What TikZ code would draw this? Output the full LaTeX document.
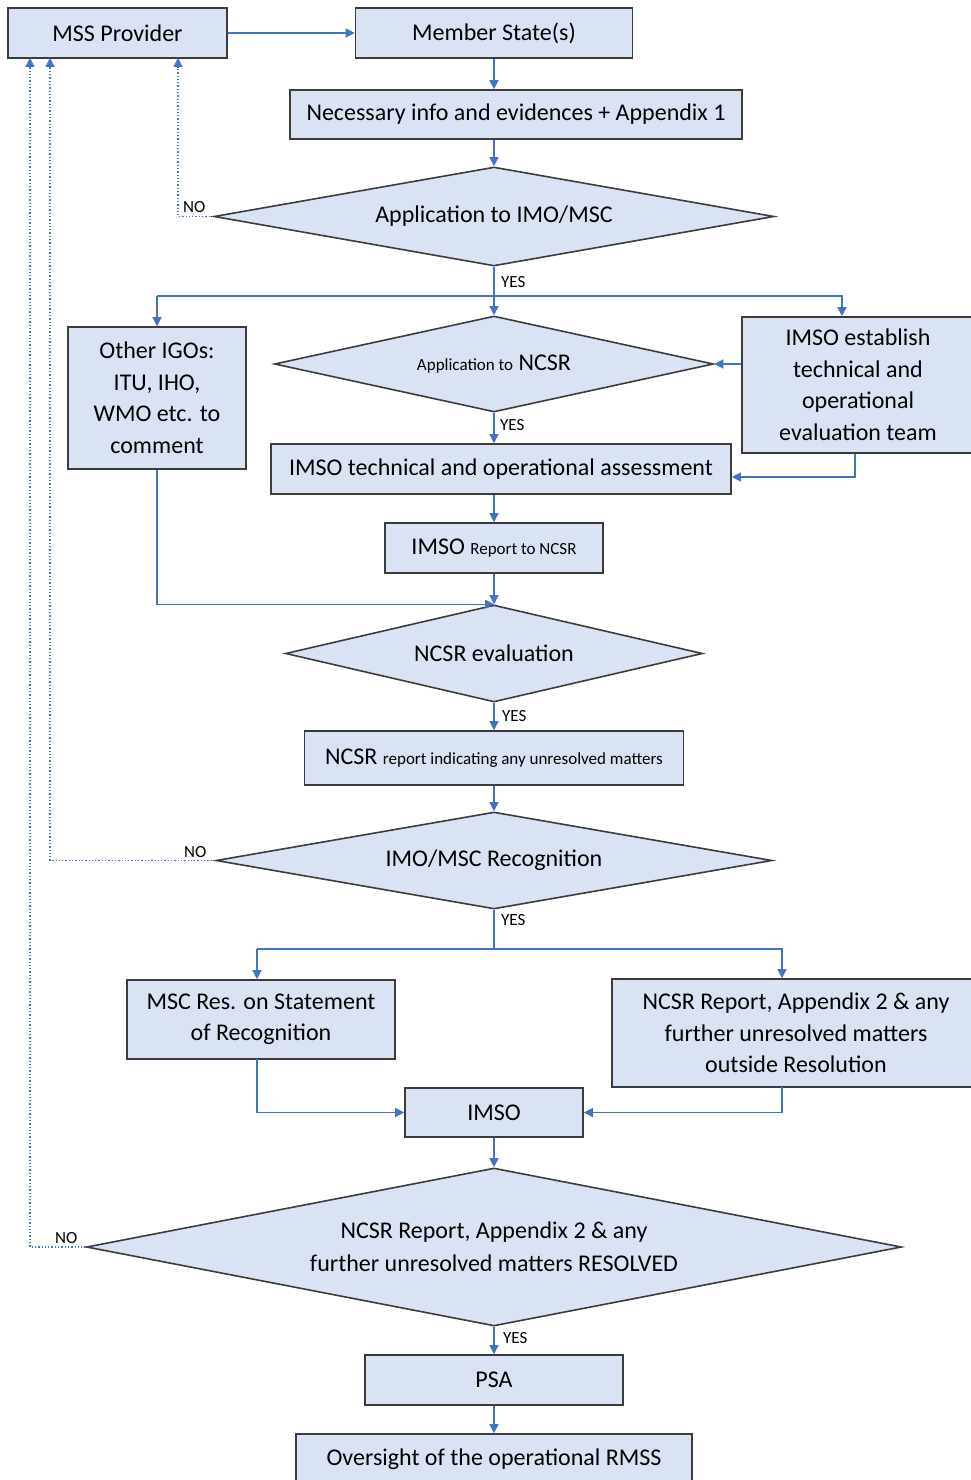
\documentclass[tikz,border=0pt]{standalone}
\usepackage{fontspec}
\setmainfont{Carlito}
\usetikzlibrary{shapes.geometric,arrows.meta}
\definecolor{boxfill}{RGB}{218,227,243}
\definecolor{boxline}{RGB}{60,60,60}
\definecolor{flow}{RGB}{68,114,196}
\newcommand{\sm}{\fontsize{17}{20}\selectfont}
\tikzset{
	stepbox/.style={draw=boxline, fill=boxfill, line width=1.6pt, inner sep=0pt, align=center, font=\fontsize{24}{31.5}\selectfont},
	choice/.style={diamond, draw=boxline, fill=boxfill, line width=1.6pt, inner sep=0pt, align=center, font=\fontsize{24}{33}\selectfont},
	flowline/.style={draw=flow, line width=1.3pt, -{Triangle[width=9pt,length=9pt]}},
	noline/.style={flowline, dotted},
	answer/.style={font=\fontsize{17}{17}\selectfont, inner sep=0pt, anchor=west}
}
\begin{document}
\begin{tikzpicture}[x=1pt,y=1pt,yscale=-1]
	\useasboundingbox (0,0) rectangle (971,1480);
	
	% Boxes
	\node[stepbox, minimum width=219, minimum height=50] (mss) at (117.5,33) {MSS Provider};
	\node[stepbox, minimum width=277, minimum height=50] (ms) at (494,33) {Member State(s)};
	\node[stepbox, minimum width=452, minimum height=49] (info) at (516,114.5) {Necessary info and evidences + Appendix 1};
	\node[stepbox, minimum width=178, minimum height=142] (igo) at (157,398) {Other IGOs:\\ITU, IHO,\\WMO etc. to\\comment};
	\node[stepbox, minimum width=232, minimum height=136] (team) at (858,385) {IMSO establish\\technical and\\operational\\evaluation team};
	\node[stepbox, minimum width=460, minimum height=50] (tech) at (501,469) {IMSO technical and operational assessment};
	\node[stepbox, minimum width=218, minimum height=50] (rep) at (494,548) {IMSO {\sm Report to NCSR}};
	\node[stepbox, minimum width=379, minimum height=54] (ncsrrep) at (494,758) {NCSR {\sm report indicating any unresolved matters}};
	\node[stepbox, minimum width=268, minimum height=79] (msc) at (261,1019.5) {MSC Res. on Statement\\of Recognition};
	\node[stepbox, minimum width=368, minimum height=108] (ncsr2) at (796,1033) {NCSR Report, Appendix 2 \& any\\further unresolved matters\\outside Resolution};
	\node[stepbox, minimum width=178, minimum height=49] (imso) at (494,1112.5) {IMSO};
	\node[stepbox, minimum width=258, minimum height=50] (psa) at (494,1380) {PSA};
	\node[stepbox, minimum width=396, minimum height=50] (over) at (494,1459) {Oversight of the operational RMSS};
	
	% Diamonds
	\node[choice, aspect=5.66, minimum width=560, minimum height=99] (d1) at (494,216.5) {Application to IMO/MSC};
	\node[choice, aspect=4.57, minimum width=439, minimum height=96] (d2) at (494,364) {{\sm Application to} NCSR};
	\node[choice, aspect=4.3, minimum width=417, minimum height=97] (d3) at (494,653.5) {NCSR evaluation};
	\node[choice, aspect=5.73, minimum width=556, minimum height=97] (d4) at (494,860.5) {IMO/MSC Recognition};
	\node[choice, aspect=5.16, minimum width=815, minimum height=158] (d5) at (494,1247) {NCSR Report, Appendix 2 \& any\\further unresolved matters RESOLVED};
	
	% Turning points
	\coordinate (split1) at (494,296);
	\coordinate (toigo) at (157,296);
	\coordinate (toteam) at (842,296);
	\coordinate (teamturn) at (855,477);
	\coordinate (split2) at (494,949);
	\coordinate (tomsc) at (257,949);
	\coordinate (toncsr) at (782,949);
	\coordinate (mscout) at (257,1059);
	\coordinate (ncsrout) at (782,1087);
	\coordinate (back1) at (178,58);
	\coordinate (back2) at (50,58);
	\coordinate (back3) at (30,58);
	
	% Straight Lines
	\draw[flowline] (mss.east) -- (ms.west);
	\draw[flowline] (ms.south) -- (ms.south |- info.north);
	\draw[flowline] (ms.south |- info.south) -- (d1.north);
	\draw[flowline, -] (d1.south) -- (split1);
	\draw[flowline] (split1) -- (d2.north);
	\draw[flowline] (toigo) -- (toteam) -- (toteam |- team.north);
	\draw[flowline] (toigo) -- (igo.north);
	\draw[flowline] (d2.east -| team.west) -- (d2.east);
	\draw[flowline] (d2.south) -- (d2.south |- tech.north);
	\draw[flowline] (team.south -| teamturn) -- (teamturn) -- (teamturn -| tech.east);
	\draw[flowline] (rep.north |- tech.south) -- (rep.north);
	\draw[flowline] (rep.south) -- (d3.north);
	\draw[flowline] (igo.south) |- (d3.north);
	\draw[flowline] (d3.south) -- (ncsrrep.north);
	\draw[flowline] (ncsrrep.south) -- (d4.north);
	\draw[flowline, -] (d4.south) -- (split2);
	\draw[flowline] (tomsc) -- (toncsr) -- (toncsr |- ncsr2.north);
	\draw[flowline] (tomsc) -- (tomsc |- msc.north);
	\draw[flowline] (mscout) |- (imso.west);
	\draw[flowline] (ncsrout) |- (imso.east);
	\draw[flowline] (imso.south) -- (d5.north);
	\draw[flowline] (d5.south) -- (psa.north);
	\draw[flowline] (psa.south) -- (over.north);
	
	% NO returns
	\draw[noline] (d1.west) -| (back1);
	\draw[noline] (d4.west) -| (back2);
	\draw[noline] (d5.west) -| (back3);
	
	% Text Node
	\node[answer] (yes1) at (501,282) {YES};
	\node[answer] (yes2) at (500,425) {YES};
	\node[answer] (yes3) at (502,716) {YES};
	\node[answer] (yes4) at (501,920) {YES};
	\node[answer] (yes5) at (503,1338) {YES};
	\node[answer] (no1) at (183,207) {NO};
	\node[answer] (no2) at (184,852) {NO};
	\node[answer] (no3) at (55,1238) {NO};
\end{tikzpicture}
\end{document}
